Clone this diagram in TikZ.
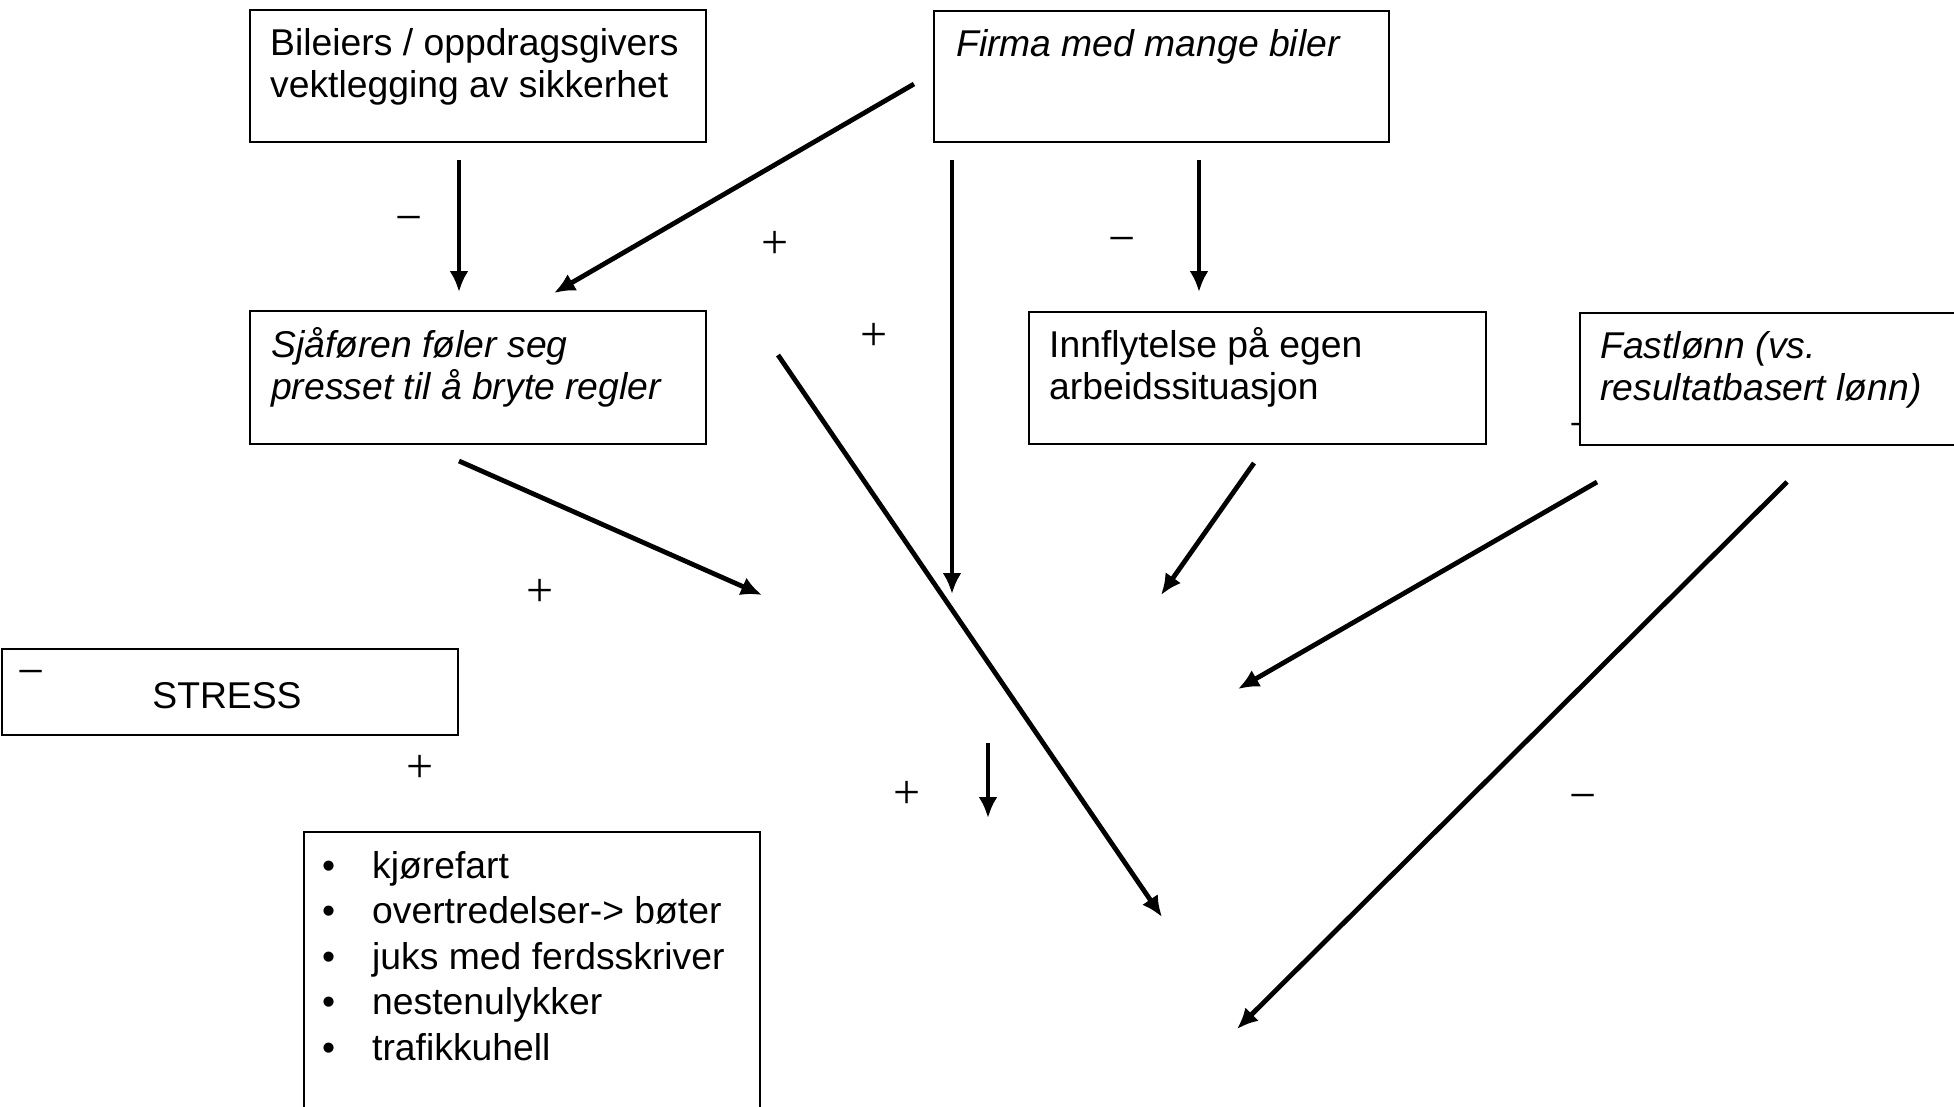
\documentclass[tikz,border=0pt]{standalone}
\usepackage{fontspec}
\setmainfont{Liberation Sans}
\newfontfamily\signfont{Liberation Serif}
\usetikzlibrary{arrows.meta}
\tikzset{
  boks/.style={draw, line width=2pt, fill=white, anchor=north west, inner sep=0pt},
  tekst/.style={anchor=base west, inner sep=0pt, align=left, font=\fontsize{37.3}{42}\selectfont},
  pil/.style={line width=4.8pt, -{Latex[length=21pt,width=19pt]}},
  fortegn/.style={font=\signfont\fontsize{48}{48}\selectfont, inner sep=0pt, anchor=base, yshift=-17pt}
}
\begin{document}
\begin{tikzpicture}[x=1pt,y=-1pt]
	\useasboundingbox (0,0) rectangle (1954,1106);
	\clip (0,0) rectangle (1954,1106);

	% Bokser (tekst festet i siste linjes grunnlinje)
	\node[boks, minimum width=456pt, minimum height=132pt] (bileier) at (249,9) {};
	\node[tekst] (bileiertxt) at (270,97) {Bileiers / oppdragsgivers\\vektlegging av sikkerhet};

	\node[boks, minimum width=455pt, minimum height=131pt] (firma) at (933,10) {};
	\node[tekst] (firmatxt) at (956,56) {\itshape Firma med mange biler};

	\node[boks, minimum width=456pt, minimum height=133pt] (sjafor) at (249,310) {};
	\node[tekst] (sjafortxt) at (271,399) {\itshape Sjåføren føler seg\\\itshape presset til å bryte regler};

	\node[boks, minimum width=457pt, minimum height=132pt] (innfl) at (1028,311) {};
	\node[tekst] (innfltxt) at (1049,399) {Innflytelse på egen\\arbeidssituasjon};

	\node[fortegn] (skjult) at (1583,423) {\char"2212};
	\node[boks, minimum width=420pt, minimum height=132pt] (fastl) at (1579,312) {};
	\node[tekst] (fastltxt) at (1600,400) {\itshape Fastlønn (vs.\\\itshape resultatbasert lønn)};

	\node[boks, minimum width=456pt, minimum height=86pt] (stress) at (1,648) {};
	\node[tekst, anchor=base] (stresstxt) at (227,708) {STRESS};

	\node[boks, minimum width=456pt, minimum height=280pt] (liste) at (303,831) {};
	\node[tekst, font=\fontsize{37.3}{45.5}\selectfont] (listetxt) at (322,1060)
		{\makebox[50pt][l]{•}kjørefart\\
		 \makebox[50pt][l]{•}overtredelser-> bøter\\
		 \makebox[50pt][l]{•}juks med ferdsskriver\\
		 \makebox[50pt][l]{•}nestenulykker\\
		 \makebox[50pt][l]{•}trafikkuhell};

	% Piler
	\coordinate (a1) at (459,160);  \coordinate (a2) at (459,292);
	\coordinate (b1) at (914,84);   \coordinate (b2) at (554,293);
	\coordinate (c1) at (952,160);  \coordinate (c2) at (952,594);
	\coordinate (d1) at (1199,160); \coordinate (d2) at (1199,292);
	\coordinate (e1) at (459,461);  \coordinate (e2) at (762,595);
	\coordinate (f1) at (778,355);  \coordinate (f2) at (1162,917);
	\coordinate (g1) at (1254,463); \coordinate (g2) at (1161,595);
	\coordinate (h1) at (1597,482); \coordinate (h2) at (1238,689);
	\coordinate (i1) at (1787,482); \coordinate (i2) at (1237,1029);
	\coordinate (j1) at (988,743);  \coordinate (j2) at (988,818);
	\foreach \p in {a,b,c,d,e,f,g,h,i,j}
		\draw[pil] (\p1) -- (\p2);

	% Fortegn
	\node[fortegn] (m1) at (409,216) {\char"2212};
	\node[fortegn] (p1) at (775,241) {+};
	\node[fortegn] (p2) at (874,333) {+};
	\node[fortegn] (m2) at (1122,237) {\char"2212};
	\node[fortegn] (p3) at (540,589) {+};
	\node[fortegn] (m3) at (31,670) {\char"2212};
	\node[fortegn] (p4) at (420,765) {+};
	\node[fortegn] (p5) at (907,791) {+};
	\node[fortegn] (m4) at (1583,794) {\char"2212};
\end{tikzpicture}
\end{document}
